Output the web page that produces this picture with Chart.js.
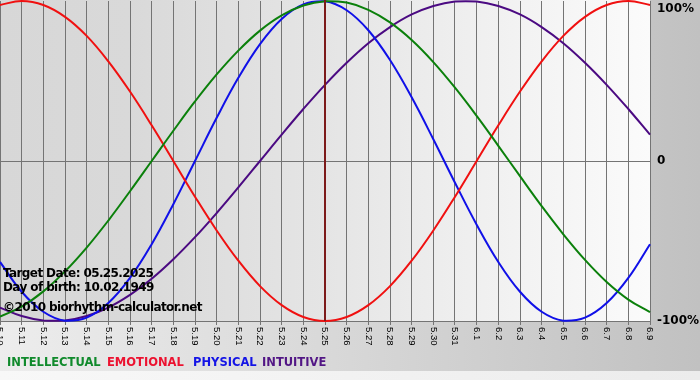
<!DOCTYPE html>
<html>
<head>
<meta charset="utf-8">
<title>Biorhythm</title>
<script src="https://cdn.jsdelivr.net/npm/chart.js@4/dist/chart.umd.min.js"></script>
<style>
  html, body { margin: 0; padding: 0; background: #fff; overflow: hidden; }
  canvas { display: block; }
</style>
</head>
<body>
<canvas id="bio-chart" width="700" height="380"></canvas>
<script>
(function () {
    "use strict";

    /* Days shown on the x axis (month.day) */
    var days = ["5.10", "5.11", "5.12", "5.13", "5.14", "5.15", "5.16", "5.17", "5.18", "5.19",
        "5.20", "5.21", "5.22", "5.23", "5.24", "5.25", "5.26", "5.27", "5.28", "5.29",
        "5.30", "5.31", "6.1", "6.2", "6.3", "6.4", "6.5", "6.6", "6.7", "6.8", "6.9"];

    /* Cycle values, -1 .. 1, one per day */
    var intellectual = [-0.972, -0.910, -0.815, -0.690, -0.541, -0.372, -0.189, 0, 0.189, 0.372,
        0.541, 0.690, 0.815, 0.910, 0.972, 0.999, 0.990, 0.945, 0.866, 0.756,
        0.618, 0.458, 0.282, 0.095, -0.095, -0.282, -0.458, -0.618, -0.756, -0.866, -0.945];
    var emotional = [0.975, 1, 0.975, 0.901, 0.782, 0.623, 0.434, 0.223, 0, -0.223,
        -0.434, -0.623, -0.782, -0.901, -0.975, -1, -0.975, -0.901, -0.782, -0.623,
        -0.434, -0.223, 0, 0.223, 0.434, 0.623, 0.782, 0.901, 0.975, 1, 0.975];
    var physical = [-0.631, -0.817, -0.942, -0.998, -0.979, -0.888, -0.731, -0.520, -0.270, 0,
        0.270, 0.520, 0.731, 0.888, 0.979, 0.998, 0.942, 0.817, 0.631, 0.398,
        0.136, -0.136, -0.398, -0.631, -0.817, -0.942, -0.998, -0.979, -0.888, -0.731, -0.520];
    var intuitive = [-0.916, -0.969, -0.997, -0.997, -0.969, -0.916, -0.837, -0.736, -0.614, -0.476,
        -0.325, -0.165, 0, 0.165, 0.325, 0.476, 0.614, 0.736, 0.837, 0.916,
        0.969, 0.997, 0.997, 0.969, 0.916, 0.837, 0.736, 0.614, 0.476, 0.325, 0.165];

    var yTicks = [1, 0, -1];
    var yTickLabels = ["100%", "0", "-100%"];

    var targetDay = "5.25";
    var infoLines = ["Target Date: 05.25.2025", "Day of birth: 10.02.1949", "\u00a92010 biorhythm-calculator.net"];
    var legendNames = ["INTELLECTUAL", "EMOTIONAL", "PHYSICAL", "INTUITIVE"];
    var legendColors = ["#108a2c", "#ec1230", "#1414e6", "#521685"];
    var lineColors = ["#0b800b", "#f01010", "#1010e8", "#4b0a82"];

    var GRID = "#747474";

    var deco = {
        id: "deco",
        beforeDraw: function (chart) {
            var ctx = chart.ctx;
            var a = chart.chartArea;
            ctx.save();
            // page background
            var g = ctx.createLinearGradient(0, 0, chart.width, 0);
            g.addColorStop(0, "#ededed");
            g.addColorStop(1, "#c1c1c1");
            ctx.fillStyle = g;
            ctx.fillRect(0, 0, chart.width, chart.height);
            var g2 = ctx.createLinearGradient(0, 0, chart.width, 0);
            g2.addColorStop(0, "#f8f8f8");
            g2.addColorStop(1, "#ececec");
            ctx.fillStyle = g2;
            ctx.fillRect(0, 371, chart.width, chart.height - 371);
            // plot background
            var g3 = ctx.createLinearGradient(a.left, 0, a.right, 0);
            g3.addColorStop(0, "#d7d7d7");
            g3.addColorStop(0.2, "#d9d9d9");
            g3.addColorStop(0.5, "#e5e5e5");
            g3.addColorStop(0.72, "#efefef");
            g3.addColorStop(1, "#fbfbfb");
            ctx.fillStyle = g3;
            ctx.fillRect(a.left, 0, a.right - a.left, a.bottom);
            ctx.restore();
        },
        afterDatasetsDraw: function (chart) {
            var ctx = chart.ctx;
            var x = chart.scales.x.getPixelForValue(days.indexOf(targetDay));
            ctx.save();
            ctx.strokeStyle = "#7d1a1a";
            ctx.lineWidth = 2;
            ctx.beginPath();
            ctx.moveTo(x, 0);
            ctx.lineTo(x, chart.chartArea.bottom);
            ctx.stroke();
            ctx.restore();
        },
        afterDraw: function (chart) {
            var ctx = chart.ctx;
            var xs = chart.scales.x;
            var ys = chart.scales.y;
            var a = chart.chartArea;
            ctx.save();

            /* x tick labels, reading downwards */
            ctx.fillStyle = "#000";
            ctx.font = "9.5px 'Liberation Sans', sans-serif";
            ctx.textAlign = "left";
            ctx.textBaseline = "middle";
            days.forEach(function (d, i) {
                ctx.save();
                ctx.translate(xs.getPixelForTick(i), a.bottom + 6);
                ctx.rotate(Math.PI / 2);
                ctx.fillText(d, 0, 0);
                ctx.restore();
            });

            /* y labels on the right */
            ctx.font = "bold 12px 'DejaVu Sans', sans-serif";
            yTicks.forEach(function (v, i) {
                var y = Math.max(ys.getPixelForValue(v), 9);
                ctx.fillText(yTickLabels[i], a.right + 7, y);
            });

            /* info text */
            ctx.font = "bold 12px 'DejaVu Sans', sans-serif";
            ctx.letterSpacing = "-0.6px";
            ctx.textBaseline = "alphabetic";
            var base = [277, 291, 311];
            infoLines.forEach(function (t, i) {
                ctx.fillText(t, 3, base[i]);
            });
            ctx.letterSpacing = "0px";

            /* legend */
            ctx.font = "bold 11.5px 'DejaVu Sans', sans-serif";
            var lx = [7, 107, 193, 262];
            legendNames.forEach(function (n, i) {
                ctx.fillStyle = legendColors[i];
                ctx.fillText(n, lx[i], 366);
            });
            ctx.restore();
        }
    };

    function series(label, data, color) {
        return {
            label: label,
            data: data,
            borderColor: color,
            borderWidth: 2,
            pointRadius: 0,
            fill: false,
            tension: 0.4,
            clip: false
        };
    }

    new Chart(document.getElementById("bio-chart").getContext("2d"), {
        type: "line",
        data: {
            labels: days,
            datasets: [
                series("Intellectual", intellectual, lineColors[0]),
                series("Emotional", emotional, lineColors[1]),
                series("Physical", physical, lineColors[2]),
                series("Intuitive", intuitive, lineColors[3])
            ]
        },
        options: {
            responsive: false,
            animation: false,
            devicePixelRatio: 1,
            layout: { padding: { top: 1, left: 0, right: 0, bottom: 0 } },
            plugins: {
                legend: { display: false },
                tooltip: { enabled: false }
            },
            scales: {
                x: {
                    type: "category",
                    offset: false,
                    border: { display: false },
                    grid: { color: GRID, lineWidth: 1, drawTicks: true, tickLength: 4 },
                    ticks: { display: false, autoSkip: false },
                    afterFit: function (s) { s.height = 59; }
                },
                y: {
                    position: "right",
                    min: -1,
                    max: 1,
                    border: { display: false },
                    grid: {
                        drawTicks: false,
                        lineWidth: 1,
                        color: function (c) { return c.tick && c.tick.value === 1 ? "rgba(0,0,0,0)" : GRID; }
                    },
                    ticks: { display: false, stepSize: 1 },
                    afterFit: function (s) { s.width = 50; }
                }
            }
        },
        plugins: [deco]
    });
})();
</script>
</body>
</html>
